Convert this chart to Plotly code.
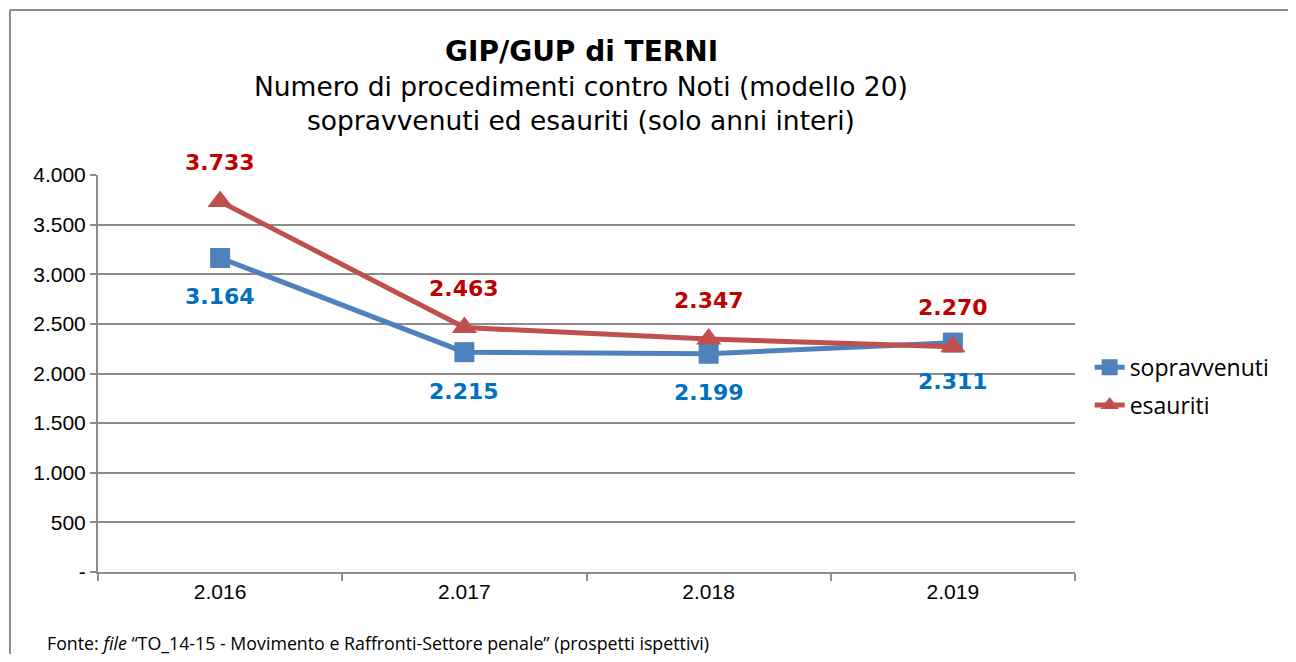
import plotly.graph_objects as go

anni = ["2.016", "2.017", "2.018", "2.019"]
sopravvenuti = [3164, 2215, 2199, 2311]
esauriti = [3733, 2463, 2347, 2270]
y_tickvals = [0, 500, 1000, 1500, 2000, 2500, 3000, 3500, 4000]
y_ticktext = ["-", "500", "1.000", "1.500", "2.000", "2.500", "3.000", "3.500", "4.000"]


def fmt(v):
    return f"{v:,}".replace(",", ".")


fig = go.Figure()
fig.add_trace(go.Scatter(
    x=anni, y=sopravvenuti, name="sopravvenuti", mode="lines+markers",
    legendgroup="a",
    line=dict(color="#4F81BD", width=5),
    marker=dict(symbol="square", size=20, color="#4F81BD"),
))
fig.add_trace(go.Scatter(
    x=anni, y=esauriti, name="esauriti", mode="lines+markers",
    legendgroup="b",
    line=dict(color="#C0504D", width=5),
    marker=dict(symbol="triangle-up", size=22, color="#C0504D"),
))

annotations = []
for i, v in enumerate(sopravvenuti):
    annotations.append(dict(x=i, y=v, xref="x", yref="y", text="<b>" + fmt(v) + "</b>",
                            showarrow=False, yshift=-39,
                            font=dict(family="DejaVu Sans", size=22, color="#0070C0")))
for i, v in enumerate(esauriti):
    annotations.append(dict(x=i, y=v, xref="x", yref="y", text="<b>" + fmt(v) + "</b>",
                            showarrow=False, yshift=39,
                            font=dict(family="DejaVu Sans", size=22, color="#C00000")))

annotations += [
    dict(x=0.4944, y=1.31, xref="paper", yref="paper", text="<b>GIP/GUP di TERNI</b>",
         showarrow=False, xanchor="center", yanchor="middle",
         font=dict(family="DejaVu Sans", size=28, color="black")),
    dict(x=0.4944, y=1.2217, xref="paper", yref="paper",
         text="Numero di procedimenti contro Noti (modello 20)",
         showarrow=False, xanchor="center", yanchor="middle",
         font=dict(family="DejaVu Sans", size=26.5, color="black")),
    dict(x=0.4944, y=1.1385, xref="paper", yref="paper",
         text="sopravvenuti ed esauriti (solo anni interi)",
         showarrow=False, xanchor="center", yanchor="middle",
         font=dict(family="DejaVu Sans", size=26.5, color="black")),
    dict(x=-0.0542, y=-0.1788, xref="paper", yref="paper",
         text="Fonte: <i>file</i> “TO_14-15 - Movimento e Raffronti-Settore penale” (prospetti ispettivi)",
         showarrow=False, xanchor="left", yanchor="middle",
         font=dict(family="Open Sans", size=17.8, color="black")),
]

fig.update_layout(
    width=1280, height=646,
    margin=dict(l=90, r=213, t=167, b=82),
    paper_bgcolor="white", plot_bgcolor="white",
    showlegend=True,
    legend=dict(x=1.015, y=0.468, xanchor="left", yanchor="middle",
                font=dict(family="Open Sans", size=23, color="black"),
                bgcolor="rgba(0,0,0,0)", traceorder="grouped", tracegroupgap=5,
                itemwidth=30),
    annotations=annotations,
    shapes=[
        dict(type="line", xref="paper", yref="paper", x0=-0.0901, x1=1.25, y0=1.4156, y1=1.4156,
             line=dict(color="#8C8C8C", width=2)),
        dict(type="line", xref="paper", yref="paper", x0=-0.0901, x1=-0.0901, y0=-0.25, y1=1.4156,
             line=dict(color="#8C8C8C", width=2)),
    ],
)
fig.update_xaxes(
    type="category", range=[-0.5, 3.5], showgrid=False,
    showline=True, linecolor="#8C8C8C", linewidth=2,
    ticks="outside", tickson="boundaries", ticklen=7, tickcolor="#8C8C8C", tickwidth=2,
    tickfont=dict(family="Liberation Sans", size=21, color="black"),
)
fig.update_yaxes(
    range=[0, 4000], tickvals=y_tickvals, ticktext=y_ticktext,
    showgrid=True, gridcolor="#8C8C8C", gridwidth=2, zeroline=False,
    showline=True, linecolor="#8C8C8C", linewidth=2,
    ticks="outside", ticklen=6, tickcolor="#8C8C8C", tickwidth=2,
    tickfont=dict(family="Liberation Sans", size=21, color="black"),
)

fig.write_html("out.html")
